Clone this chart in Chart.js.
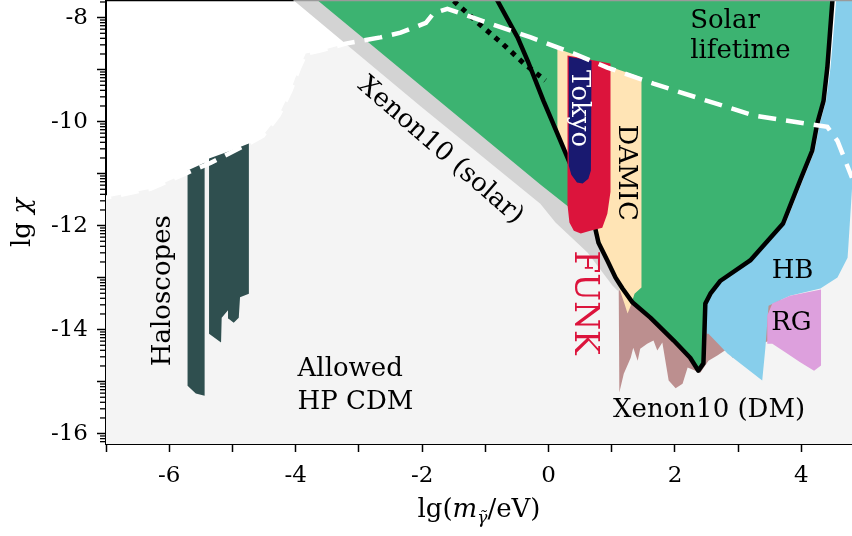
<!DOCTYPE html>
<html>
<head>
<meta charset="utf-8">
<script src="https://cdn.jsdelivr.net/npm/chart.js@4.4.1/dist/chart.umd.min.js"></script>
<style>
    html, body { margin: 0; padding: 0; background: #fff; }
    #wrap { width: 852px; height: 536px; }
</style>
</head>
<body>
<div id="wrap"><canvas id="grafica"></canvas></div>
<script>
// Ejes: lg(m / eV) en x, lg chi en y
const X_MIN = -7, X_MAX = 4.8;
const Y_MIN = -16.2, Y_MAX = -7.68;
const xTickLabels = [-6, -4, -2, 0, 2, 4];
const yTickLabels = [-16, -14, -12, -10, -8];

// Frontera de la región permitida (línea blanca discontinua)
const allowedX = [-7.2, -6.99, -6.29, -5.71, -5.34, -4.74, -4.52, -4.27, -4.08, -3.95, -3.84, -3.60, -3.21, -2.66, -2.34, -1.94, -1.82, -1.60, -0.96, -0.28, 0.40, 0.93, 1.66, 2.51, 3.24, 4.41, 4.57, 4.80, 4.9];
const allowedY = [-11.5, -11.46, -11.29, -10.98, -10.79, -10.42, -10.27, -9.88, -9.40, -8.98, -8.69, -8.63, -8.50, -8.38, -8.29, -8.10, -7.92, -7.83, -8.10, -8.38, -8.69, -8.96, -9.27, -9.60, -9.88, -10.10, -10.37, -11.08, -11.4];

// Xenon10 (solar), banda gris
const xenonSolarX = [-4.39, -4.03, -2.02, -0.13, 0.11, 0.62, 1.01, 1.09, 1.45, 1.45];
const xenonSolarY = [-7.3, -7.67, -9.71, -11.58, -11.94, -12.52, -13.15, -13.25, -13.25, -7.3];

// Borde superior de la banda (donde empieza el verde)
const solarEdgeX = [-3.99, -3.65, -2.02, -0.13, 0.43];
const solarEdgeY = [-7.3, -7.67, -9.31, -11.21, -11.75];

// Línea negra: vida solar
const solarLineX = [-0.89, -0.81, -0.49, -0.33, -0.08, 0.14, 0.30, 0.55, 0.74, 0.79, 0.93, 1.06, 1.17, 1.33, 1.61, 1.98, 2.24, 2.37, 2.45, 2.48, 2.56, 2.72, 3.19, 3.71, 3.98, 4.17, 4.25, 4.35, 4.41, 4.49, 4.52];
const solarLineY = [-7.48, -7.67, -8.38, -8.83, -9.60, -10.23, -10.69, -11.42, -12.06, -12.33, -12.67, -13.00, -13.21, -13.48, -13.77, -14.21, -14.54, -14.79, -14.65, -13.50, -13.31, -13.06, -12.67, -11.96, -11.13, -10.56, -10.04, -9.60, -8.96, -7.67, -7.3];

// Línea punteada
const dotX = [-1.50, -1.07, -0.73, -0.40, -0.05];
const dotY = [-7.68, -8.15, -8.50, -8.87, -9.21];

// Xenon10 (DM)
const dmX = [1.11, 1.12, 1.19, 1.30, 1.34, 1.41, 1.45, 1.56, 1.66, 1.72, 1.80, 1.90, 2.01, 2.12, 2.20, 2.40, 2.53, 2.67, 2.83, 2.91, 3.03, 3.51, 3.67, 3.67, 2.50, 1.61, 1.30];
const dmY = [-13.19, -15.21, -14.85, -14.54, -14.35, -14.60, -14.37, -14.27, -14.21, -14.40, -14.25, -14.98, -15.13, -15.04, -14.73, -14.83, -14.60, -14.50, -14.37, -14.54, -14.40, -14.21, -14.12, -13.35, -13.35, -13.44, -13.25];

// HB
const hbX = [4.57, 4.55, 4.46, 4.39, 4.29, 4.21, 4.02, 3.75, 3.22, 2.74, 2.58, 2.50, 2.50, 2.53, 2.83, 3.38, 3.43, 3.48, 3.82, 4.30, 4.57, 4.73, 4.74, 4.80, 4.9, 4.9];
const hbY = [-7.3, -7.67, -8.96, -9.60, -10.04, -10.56, -11.13, -11.96, -12.67, -13.06, -13.31, -13.50, -14.08, -14.08, -14.46, -14.98, -14.35, -13.54, -13.35, -13.21, -13.00, -12.62, -12.44, -11.29, -11.0, -7.3];

// RG
const rgX = [3.46, 3.46, 3.54, 3.82, 4.31, 4.31, 4.20, 3.98, 3.75, 3.54];
const rgY = [-14.27, -13.73, -13.50, -13.35, -13.23, -14.69, -14.79, -14.63, -14.44, -14.27];

// DAMIC
const damicX = [0.14, 0.14, 0.30, 0.55, 0.74, 0.93, 1.06, 1.13, 1.20, 1.25, 1.30, 1.36, 1.47, 1.47];
const damicY = [-8.60, -10.23, -10.69, -11.42, -12.06, -12.67, -13.00, -13.25, -13.50, -13.69, -13.54, -13.31, -13.19, -9.15];

// FUNK
const funkX = [0.30, 0.30, 0.33, 0.40, 0.51, 0.66, 0.85, 0.93, 0.98, 0.98];
const funkY = [-8.73, -11.60, -11.94, -12.10, -12.15, -12.10, -12.04, -11.77, -11.35, -8.88];

// Tokyo
const tokyoX = [0.32, 0.32, 0.36, 0.45, 0.54, 0.63, 0.67, 0.68];
const tokyoY = [-8.75, -10.85, -11.02, -11.17, -11.19, -11.10, -10.94, -8.83];

// Haloscopios (dos barras)
const halo1X = [-5.71, -5.44, -5.44, -5.58, -5.71];
const halo1Y = [-10.94, -10.79, -15.27, -15.23, -15.08];
const halo2X = [-5.37, -5.03, -4.74, -4.74, -4.88, -4.90, -4.98, -5.06, -5.07, -5.17, -5.18, -5.37];
const halo2Y = [-10.71, -10.56, -10.42, -13.31, -13.38, -13.77, -13.87, -13.79, -13.63, -13.77, -14.25, -14.08];

const FUENTE = '"DejaVu Serif", serif';

// Textos dentro del área (coordenadas en datos)
const etiquetas = [
    { text: "Solar", x: 2.24, y: -8.06, align: "left" },
    { text: "lifetime", x: 2.24, y: -8.65, align: "left" },
    { text: "Xenon10 (solar)", x: -1.71, y: -10.56, rot: 41 },
    { text: "Haloscopes", x: -6.10, y: -13.25, rot: -90 },
    { text: "Allowed", x: -3.97, y: -14.77, align: "left" },
    { text: "HP CDM", x: -3.97, y: -15.40, align: "left" },
    { text: "Xenon10 (DM)", x: 2.54, y: -15.56 },
    { text: "Tokyo", x: 0.47, y: -9.75, rot: 90, color: "#ffffff" },
    { text: "DAMIC", x: 1.22, y: -10.98, rot: 90 },
    { text: "FUNK", x: 0.55, y: -13.48, rot: 90, color: "#dc143c", size: 33 },
    { text: "HB", x: 3.86, y: -12.87 },
    { text: "RG", x: 3.84, y: -13.88 }
];

function puntos(xs, ys) {
    return xs.map((x, i) => ({ x, y: ys[i] }));
}

// capas de atrás hacia adelante
const capas = [
    { data: puntos(allowedX, allowedY), fill: "start", backgroundColor: "#f4f4f4", borderWidth: 0 },
    { data: puntos(dmX, dmY), fill: "shape", backgroundColor: "#bc8f8f", borderWidth: 0 },
    { data: puntos(xenonSolarX, xenonSolarY), fill: "shape", backgroundColor: "#d3d3d3", borderWidth: 0 },
    { data: puntos(solarEdgeX, solarEdgeY).concat(puntos(solarLineX, solarLineY).slice(8)), fill: "shape", backgroundColor: "#3cb371", borderWidth: 0 },
    { data: puntos(hbX, hbY), fill: "shape", backgroundColor: "#87ceeb", borderWidth: 0 },
    { data: puntos(rgX, rgY), fill: "shape", backgroundColor: "#dda0dd", borderWidth: 0 },
    { data: puntos(halo1X, halo1Y), fill: "shape", backgroundColor: "#2f4f4f", borderWidth: 0 },
    { data: puntos(halo2X, halo2Y), fill: "shape", backgroundColor: "#2f4f4f", borderWidth: 0 },
    { data: puntos(damicX, damicY), fill: "shape", backgroundColor: "#ffe4b5", borderWidth: 0 },
    { data: puntos(solarLineX, solarLineY), fill: false, borderColor: "#000", borderWidth: 4.5, borderJoinStyle: "round" },
    { data: puntos(funkX, funkY), fill: "shape", backgroundColor: "#dc143c", borderWidth: 0 },
    { data: puntos(tokyoX, tokyoY), fill: "shape", backgroundColor: "#191970", borderWidth: 0 },
    { data: puntos(dotX, dotY), fill: false, borderColor: "#000", borderWidth: 5, borderDash: [5, 6] },
    { data: puntos(allowedX, allowedY), fill: false, borderColor: "#fff", borderWidth: 4.5, borderDash: [18, 10] }
];

const datasets = capas.map((c, i) => Object.assign({
    pointRadius: 0,
    tension: 0,
    order: capas.length - i
}, c));

// Ticks menores logarítmicos en y, textos y títulos de ejes
const extras = {
    id: "extras",
    afterDatasetsDraw(chart) {
        const { ctx, chartArea: area, scales: { x, y } } = chart;
        etiquetas.forEach(l => {
            ctx.save();
            ctx.translate(x.getPixelForValue(l.x), y.getPixelForValue(l.y));
            ctx.rotate((l.rot || 0) * Math.PI / 180);
            ctx.font = `${l.size || 26}px ${FUENTE}`;
            ctx.fillStyle = l.color || "#000";
            ctx.textAlign = l.align || "center";
            ctx.textBaseline = "middle";
            ctx.fillText(l.text, 0, 0);
            ctx.restore();
        });
        // borde superior (negro sobre blanco, gris sobre las regiones)
        const corte = x.getPixelForValue(xenonSolarX[1]);
        ctx.save();
        ctx.lineWidth = 1.5;
        ctx.strokeStyle = "#000";
        ctx.beginPath(); ctx.moveTo(area.left, area.top - 0.5); ctx.lineTo(corte, area.top - 0.5); ctx.stroke();
        ctx.strokeStyle = "#9a9a9a";
        ctx.beginPath(); ctx.moveTo(corte, area.top - 0.5); ctx.lineTo(area.right, area.top - 0.5); ctx.stroke();
        ctx.restore();
    },
    afterDraw(chart) {
        const { ctx, chartArea: area, scales: { y } } = chart;
        ctx.save();
        ctx.strokeStyle = "#000";
        ctx.lineWidth = 1.3;
        for (let n = -17; n <= -8; n++) {
            for (let k = 2; k <= 9; k++) {
                const v = n + Math.log10(k);
                if (v < Y_MIN || v > Y_MAX) continue;
                const py = y.getPixelForValue(v);
                ctx.beginPath();
                ctx.moveTo(area.left - 6, py);
                ctx.lineTo(area.left, py);
                ctx.stroke();
            }
        }
        // título eje y: lg χ
        ctx.fillStyle = "#000";
        ctx.save();
        ctx.translate(area.left - 83, (area.top + area.bottom) / 2);
        ctx.rotate(-Math.PI / 2);
        ctx.textBaseline = "middle";
        const f1 = `26px ${FUENTE}`, f2 = `italic 26px ${FUENTE}`;
        ctx.font = f1; const w1 = ctx.measureText("lg ").width;
        ctx.font = f2; const w2 = ctx.measureText("χ").width;
        const cx = -(w1 + w2) / 2;
        ctx.font = f1; ctx.textAlign = "left"; ctx.fillText("lg ", cx, 0);
        ctx.font = f2; ctx.fillText("χ", cx + w1, 0);
        ctx.restore();

        // título eje x: lg(m_γ̃/eV)
        const partes = [
            { t: "lg(", f: `26px ${FUENTE}`, dy: 0 },
            { t: "m", f: `italic 26px ${FUENTE}`, dy: 0 },
            { t: "γ̃", f: `italic 17px ${FUENTE}`, dy: 6 },
            { t: "/eV)", f: `26px ${FUENTE}`, dy: 0 }
        ];
        let total = 0;
        partes.forEach(p => { ctx.font = p.f; p.w = ctx.measureText(p.t).width; total += p.w; });
        let px = (area.left + area.right) / 2 - total / 2;
        const base = area.bottom + 73;
        ctx.textAlign = "left";
        ctx.textBaseline = "alphabetic";
        partes.forEach(p => {
            ctx.font = p.f;
            ctx.fillText(p.t, px, base + p.dy);
            px += p.w;
        });
        ctx.restore();
    }
};

new Chart(document.getElementById("grafica").getContext("2d"), {
    type: "line",
    data: { datasets },
    options: {
        responsive: true,
        maintainAspectRatio: false,
        animation: false,
        layout: { padding: { top: 1, right: 0, left: 0, bottom: 0 } },
        plugins: { legend: { display: false }, tooltip: { enabled: false } },
        scales: {
            x: {
                type: "linear",
                min: X_MIN,
                max: X_MAX,
                afterFit: s => { s.height = 92; s.paddingLeft = 0; s.paddingRight = 0; },
                border: { color: "#000", width: 2 },
                grid: { drawOnChartArea: false, drawTicks: true, tickLength: 8, tickColor: "#000", tickWidth: 1.5 },
                ticks: {
                    stepSize: 1,
                    includeBounds: false,
                    autoSkip: false,
                    maxRotation: 0,
                    padding: 10,
                    color: "#000",
                    font: { family: FUENTE, size: 23 },
                    callback: v => xTickLabels.includes(v) ? String(v) : ""
                }
            },
            y: {
                type: "linear",
                min: Y_MIN,
                max: Y_MAX,
                afterFit: s => { s.width = 106; s.paddingTop = 0; s.paddingBottom = 0; },
                border: { color: "#000", width: 2 },
                grid: { drawOnChartArea: false, drawTicks: true, tickLength: 9, tickColor: "#000", tickWidth: 1.5 },
                ticks: {
                    stepSize: 1,
                    includeBounds: false,
                    autoSkip: false,
                    padding: 9,
                    color: "#000",
                    font: { family: FUENTE, size: 23 },
                    callback: v => yTickLabels.includes(v) ? String(v) : ""
                }
            }
        }
    },
    plugins: [extras]
});
</script>
</body>
</html>
